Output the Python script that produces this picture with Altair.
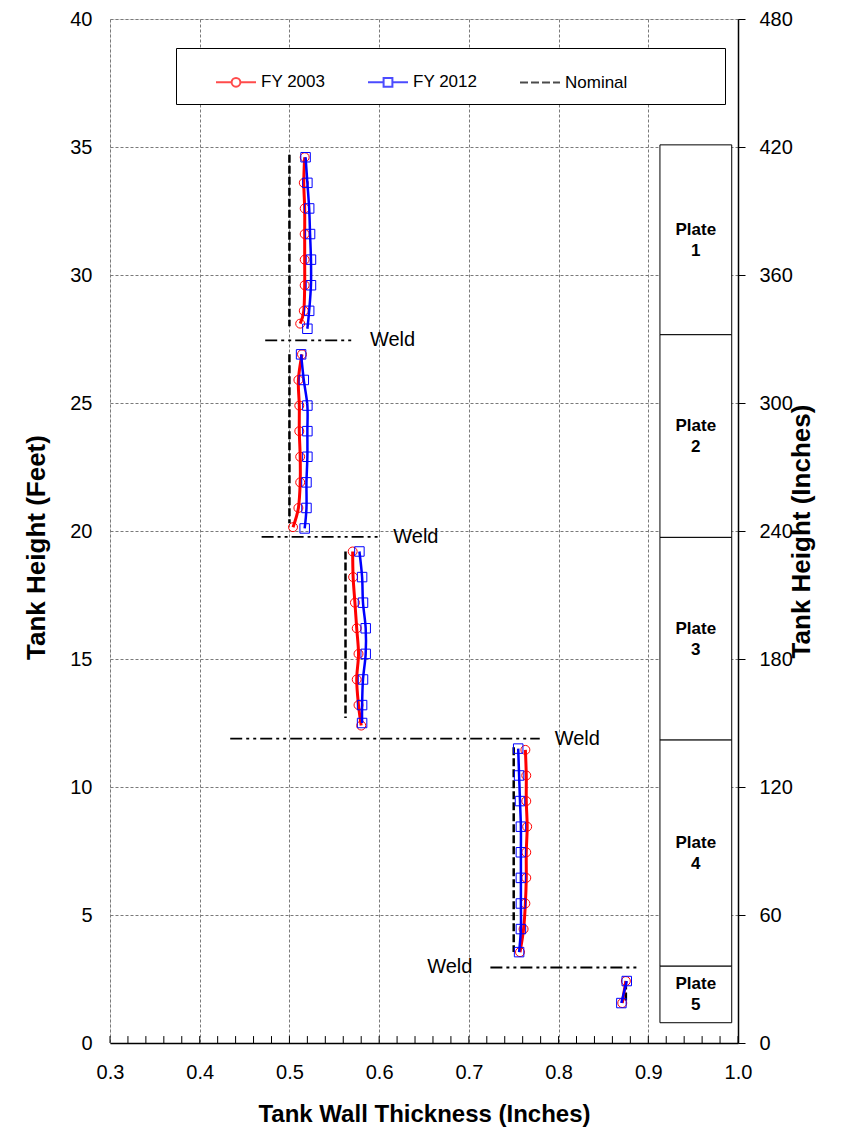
import altair as alt
import pandas as pd

FONT = "Liberation Sans"

# ---------------- data ----------------
# FY 2003 readings: plate number, height (ft), wall thickness (in)
fy2003_plate = [1]*8 + [2]*8 + [3]*8 + [4]*9 + [5]*2
fy2003_ft = [34.6, 33.6, 32.6, 31.6, 30.6, 29.6, 28.6, 28.1,
             26.9, 25.9, 24.9, 23.9, 22.9, 21.9, 20.9, 20.15,
             19.2, 18.2, 17.2, 16.2, 15.2, 14.2, 13.2, 12.4,
             11.45, 10.45, 9.45, 8.45, 7.45, 6.45, 5.45, 4.45, 3.55,
             2.42, 1.56]
fy2003_thk = [0.517, 0.516, 0.517, 0.517, 0.517, 0.517, 0.516, 0.512,
              0.514, 0.510, 0.511, 0.511, 0.512, 0.512, 0.510, 0.504,
              0.5705, 0.571, 0.573, 0.575, 0.577, 0.575, 0.577, 0.580,
              0.763, 0.764, 0.764, 0.765, 0.764, 0.764, 0.763, 0.761, 0.757,
              0.875, 0.871]

# FY 2012 readings
fy2012_plate = [1]*8 + [2]*8 + [3]*8 + [4]*9 + [5]*2
fy2012_ft = [34.6, 33.6, 32.6, 31.6, 30.6, 29.6, 28.6, 27.9,
             26.9, 25.9, 24.9, 23.9, 22.9, 21.9, 20.9, 20.1,
             19.2, 18.2, 17.2, 16.2, 15.2, 14.2, 13.2, 12.5,
             11.5, 10.45, 9.45, 8.45, 7.45, 6.45, 5.45, 4.45, 3.55,
             2.42, 1.56]
fy2012_thk = [0.518, 0.520, 0.522, 0.523, 0.524, 0.524, 0.522, 0.520,
              0.513, 0.516, 0.520, 0.520, 0.520, 0.519, 0.519, 0.517,
              0.578, 0.581, 0.582, 0.585, 0.585, 0.582, 0.581, 0.581,
              0.755, 0.756, 0.757, 0.758, 0.758, 0.758, 0.758, 0.758, 0.756,
              0.876, 0.870]

# Nominal thickness segments per plate
nominal_thk = [0.5, 0.5, 0.5625, 0.75, 0.875]
nominal_top_ft = [34.7, 26.9, 19.2, 11.55, 2.4]
nominal_bot_ft = [28.0, 20.3, 12.7, 3.55, 1.65]

# Weld lines
weld_ft = [27.45, 19.77, 11.89, 2.95]
weld_x1 = [0.473, 0.469, 0.434, 0.724]
weld_x2 = [0.573, 0.599, 0.779, 0.891]
weld_side = ["right", "right", "right", "left"]

# Plate boxes (inches) on the right
plate_names = ["Plate\n1", "Plate\n2", "Plate\n3", "Plate\n4", "Plate\n5"]
plate_top_in = [421, 332, 237, 142, 36]
plate_bot_in = [332, 237, 142, 36, 9.5]
plate_box_x1 = 0.913
plate_box_x2 = 0.993

# axes
x_major = [0.3, 0.4, 0.5, 0.6, 0.7, 0.8, 0.9, 1.0]
x_minor = [0.30, 0.32, 0.34, 0.36, 0.38, 0.40, 0.42, 0.44, 0.46, 0.48,
           0.50, 0.52, 0.54, 0.56, 0.58, 0.60, 0.62, 0.64, 0.66, 0.68,
           0.70, 0.72, 0.74, 0.76, 0.78, 0.80, 0.82, 0.84, 0.86, 0.88,
           0.90, 0.92, 0.94, 0.96, 0.98, 1.00]
ft_major = [0, 5, 10, 15, 20, 25, 30, 35, 40]
in_major = [0, 60, 120, 180, 240, 300, 360, 420, 480]

# legend entries (the last, blank one only widens the legend frame)
series_names = ["FY 2003", "FY 2012", "Nominal", "\u00a0"]
series_colors = ["#ff0000", "#0000ff", "#000000", "#ffffff"]

# ---------------- tables ----------------
df2003 = pd.DataFrame({"series": "FY 2003", "plate": fy2003_plate,
                       "ft": fy2003_ft, "thk": fy2003_thk})
df2012 = pd.DataFrame({"series": "FY 2012", "plate": fy2012_plate,
                       "ft": fy2012_ft, "thk": fy2012_thk})
dfnom = pd.DataFrame({"series": "Nominal", "thk": nominal_thk,
                      "top": nominal_top_ft, "bot": nominal_bot_ft})
dfweld = pd.DataFrame({"ft": weld_ft, "x1": weld_x1, "x2": weld_x2,
                       "side": weld_side, "label": "Weld"})
dfplate = pd.DataFrame({"name": plate_names, "top": plate_top_in,
                        "bot": plate_bot_in,
                        "x1": plate_box_x1, "x2": plate_box_x2})
dfplate["mid"] = (dfplate["top"] + dfplate["bot"]) / 2
dfplate["xm"] = (dfplate["x1"] + dfplate["x2"]) / 2
dfticks = pd.DataFrame({"tick": x_minor})
dfticks["y0"] = 0.0
dfticks["y1"] = 0.27
dflegend = pd.DataFrame({"series": series_names})

# ---------------- scales / axes ----------------
xscale = alt.Scale(domain=[0.3, 1.0], nice=False, zero=False)
yft = alt.Scale(domain=[0, 40], nice=False, zero=False)
yin = alt.Scale(domain=[0, 480], nice=False, zero=False)
cscale = alt.Scale(domain=series_names, range=series_colors)

p2003 = "M-1,0H-0.22M0.22,0H1M0.22,0A0.22,0.22 0 1,1 -0.22,0A0.22,0.22 0 1,1 0.22,0"
p2012 = "M-1,0H-0.22M0.22,0H1M-0.22,-0.22H0.22V0.22H-0.22Z"
pnom = "M-1,0H-0.6M-0.45,0H-0.05M0.1,0H0.5M0.65,0H1"
pblank = "M0,0"
sscale = alt.Scale(domain=series_names, range=[p2003, p2012, pnom, pblank])

grid_style = dict(grid=True, gridColor="#7a7a7a", gridDash=[3, 2], gridWidth=1)
lab_style = dict(labelFont=FONT, labelFontSize=20, labelColor="black",
                 labelFlush=False, titleFont=FONT, titleFontWeight="bold",
                 titleColor="black")

xaxis = alt.Axis(values=x_major, format=".1f", ticks=False, domain=True,
                 domainColor="black", domainWidth=1.5, labelPadding=19,
                 title="Tank Wall Thickness (Inches)", titleFontSize=24,
                 titlePadding=20, **grid_style, **lab_style)
yaxis_ft = alt.Axis(values=ft_major, ticks=False, domain=False, labelPadding=18,
                    title="Tank Height (Feet)", titleFontSize=26, titlePadding=20,
                    titleY=528, **grid_style, **lab_style)
yaxis_in = alt.Axis(orient="right", values=in_major, grid=False, ticks=True,
                    tickSize=7, tickColor="black", tickWidth=1, domain=True,
                    domainColor="black", domainWidth=1.5, labelPadding=14,
                    title="Tank Height (Inches)", titleAngle=270, titleFontSize=26,
                    titlePadding=22, **lab_style)


def X(field):
    return alt.X(field, type="quantitative", scale=xscale, axis=xaxis)


def YF(field):
    return alt.Y(field, type="quantitative", scale=yft, axis=yaxis_ft)


def YI(field):
    return alt.Y(field, type="quantitative", scale=yin, axis=yaxis_in)


legend = alt.Legend(
    title="\u00a0", titleOrient="left", titlePadding=26, titleFontSize=10,
    orient="none", legendX=66, legendY=29, direction="horizontal", columns=4,
    columnPadding=38, symbolSize=1600, symbolStrokeWidth=2,
    labelFont=FONT, labelFontSize=17, labelColor="black", labelOffset=4,
    padding=13, strokeColor="black", fillColor="white",
)

# ---------------- layers (feet) ----------------
ticks_layer = alt.Chart(dfticks).mark_rule(color="black", strokeWidth=1).encode(
    x=X("tick"), y=YF("y0"), y2="y1")

nominal_layer = alt.Chart(dfnom).mark_rule(
    color="black", strokeDash=[8, 3], strokeWidth=2.5).encode(
    x=X("thk"), y=YF("top"), y2="bot")

weld_layer = alt.Chart(dfweld).mark_rule(
    color="black", strokeWidth=1.8, strokeDash=[12, 4, 3, 4, 3, 4]).encode(
    x=X("x1"), x2="x2", y=YF("ft"))

weld_text_r = alt.Chart(dfweld).transform_filter("datum.side == 'right'").mark_text(
    align="left", baseline="middle", dx=15, font=FONT, fontSize=20, color="black").encode(
    x=X("x2"), y=YF("ft"), text="label:N")

weld_text_l = alt.Chart(dfweld).transform_filter("datum.side == 'left'").mark_text(
    align="right", baseline="middle", dx=-18, font=FONT, fontSize=20, color="black").encode(
    x=X("x1"), y=YF("ft"), text="label:N")


def series_layers(df, color, width, shape, size):
    line = alt.Chart(df).mark_line(color=color, strokeWidth=width,
                                   interpolate="cardinal").encode(
        x=X("thk"), y=YF("ft"), detail="plate:N", order=alt.Order("ft:Q"))
    pts = alt.Chart(df).mark_point(color=color, shape=shape, size=size,
                                   filled=False, strokeWidth=1, opacity=1).encode(
        x=X("thk"), y=YF("ft"))
    return line, pts


l03, p03 = series_layers(df2003, "#ff0000", 3, "circle", 80)
l12, p12 = series_layers(df2012, "#0000ff", 2.5, "square", 90)

# legend-only layer: its rows are filtered out, scales keep the full domain
legend_layer = alt.Chart(dflegend).transform_filter("false").mark_point(
    filled=False).encode(
    color=alt.Color("series:N", scale=cscale, legend=legend),
    shape=alt.Shape("series:N", scale=sscale, legend=legend))

ft_group = alt.layer(ticks_layer, weld_layer, nominal_layer, l03, p03, l12, p12,
                     weld_text_r, weld_text_l, legend_layer)

# ---------------- layers (inches) ----------------
plate_rect = alt.Chart(dfplate).mark_rect(fill="white", stroke="black", strokeWidth=1).encode(
    x=X("x1"), x2="x2", y=YI("top"), y2="bot")
plate_text = alt.Chart(dfplate).mark_text(
    font=FONT, fontSize=17, fontWeight="bold", lineBreak="\n", lineHeight=21,
    baseline="middle", align="center", dy=-10, color="black").encode(
    x=X("xm"), y=YI("mid"), text="name:N")

in_group = alt.layer(plate_rect, plate_text)

chart = alt.layer(ft_group, in_group).resolve_scale(y="independent").properties(
    width=628, height=1024,
    autosize=alt.AutoSizeParams(type="none"),
    padding={"left": 102, "top": 11, "right": 100, "bottom": 93},
).configure_view(stroke=None).configure(background="white")

chart.save("out.html", embed_options={"renderer": "svg", "actions": False})
